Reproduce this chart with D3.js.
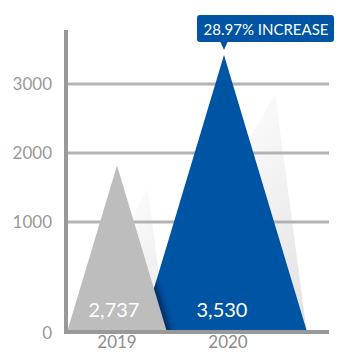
<!DOCTYPE html>
<html>
<head>
<meta charset="utf-8">
<title>Peak chart</title>
<style>
  body { margin: 0; background: #fff; }
  svg { display: block; font-family: "Lato", "Open Sans", sans-serif; }
  .tick-label { fill: #999; font-size: 17px; font-weight: 400; }
  .year-label { fill: #8c8c8c; font-size: 17px; font-weight: 400; }
  .value-label { fill: #fff; font-size: 20px; font-weight: 400; }
</style>
<script src="https://cdn.jsdelivr.net/npm/d3@7"></script>
</head>
<body>
<script>
// data
var years = ["2019", "2020"];
var values = [2737, 3530];          // printed labels
var peaks = [1820, 3420];           // drawn peak height on the axis
var yTicks = [0, 1000, 2000, 3000];
var callout = "28.97% INCREASE";

var width = 344, height = 352;
var baseY = 330;

var svg = d3.select("body").append("svg")
    .attr("width", width)
    .attr("height", height);

var defs = svg.append("defs");

// the axis is squeezed below 1000
var y = d3.scaleLinear()
    .domain([0, 1000, 3000])
    .range([332, 222, 84]);

var x = d3.scalePoint()
    .domain(years)
    .range([117, 224]);

var colors = ["#bdbdbd", "#0054a4"];

// shadow gradient
var sg = defs.append("linearGradient")
    .attr("id", "shade")
    .attr("x1", 0).attr("y1", 0).attr("x2", 1).attr("y2", 1);
sg.append("stop").attr("offset", "0%").attr("stop-color", "#ffffff").attr("stop-opacity", 0);
sg.append("stop").attr("offset", "60%").attr("stop-color", "#f1f1f1").attr("stop-opacity", 1);
sg.append("stop").attr("offset", "100%").attr("stop-color", "#e0e0e0").attr("stop-opacity", 1);

defs.append("filter").attr("id", "blur")
    .attr("x", "-50%").attr("y", "-50%").attr("width", "200%").attr("height", "200%")
    .append("feGaussianBlur").attr("stdDeviation", 3);

function tri(i) {
    var cx = x(years[i]), top = y(peaks[i]);
    var hw = 0.3 * (baseY - top);
    return { cx: cx, top: top, hw: hw, l: cx - hw, r: cx + hw };
}
var shapes = years.map(function(d, i) { return tri(i); });

// shadows
shapes.forEach(function(t, i) {
    var px = t.cx + 0.62 * t.hw;
    var py = baseY - 0.86 * (baseY - t.top);
    svg.append("path")
        .attr("d", "M" + t.l + "," + baseY + "L" + px + "," + py + "L" + t.r + "," + baseY + "Z")
        .attr("fill", "url(#shade)")
        .attr("opacity", i ? 0.95 : 0.75);
});

// gridlines
svg.selectAll(".grid")
    .data(yTicks.slice(1))
    .enter().append("line")
    .attr("x1", 68).attr("x2", 329)
    .attr("y1", function(d) { return y(d); })
    .attr("y2", function(d) { return y(d); })
    .attr("stroke", "#b3b3b3")
    .attr("stroke-width", 3);

// blue peak
var b = shapes[1], g = shapes[0];
defs.append("clipPath").attr("id", "blueClip")
    .append("path")
    .attr("d", "M" + b.l + "," + baseY + "L" + b.cx + "," + b.top + "L" + b.r + "," + baseY + "Z");

svg.append("path")
    .attr("d", "M" + b.l + "," + baseY + "L" + b.cx + "," + b.top + "L" + b.r + "," + baseY + "Z")
    .attr("fill", colors[1]);

// dark edge cast by the grey peak
svg.append("g").attr("clip-path", "url(#blueClip)")
    .append("line")
    .attr("x1", g.cx + 0.7 * g.hw).attr("y1", baseY - 0.3 * (baseY - g.top))
    .attr("x2", g.r + 1).attr("y2", baseY + 4)
    .attr("stroke", "#001f45")
    .attr("stroke-width", 6)
    .attr("filter", "url(#blur)");

// grey peak
svg.append("path")
    .attr("d", "M" + g.l + "," + baseY + "L" + g.cx + "," + g.top + "L" + g.r + "," + baseY + "Z")
    .attr("fill", colors[0]);

// axes
svg.append("line")
    .attr("x1", 66).attr("x2", 66).attr("y1", 30).attr("y2", 334)
    .attr("stroke", "#999").attr("stroke-width", 4);
svg.append("line")
    .attr("x1", 64).attr("x2", 329).attr("y1", 332).attr("y2", 332)
    .attr("stroke", "#999").attr("stroke-width", 4);

svg.selectAll(".tick-label")
    .data(yTicks)
    .enter().append("text")
    .attr("class", "tick-label")
    .attr("x", 52)
    .attr("y", function(d) { return d === 0 ? 333 : y(d); })
    .attr("dy", "0.35em")
    .attr("text-anchor", "end")
    .text(function(d) { return d; });

svg.selectAll(".year-label")
    .data(years)
    .enter().append("text")
    .attr("class", "year-label")
    .attr("x", function(d, i) { return x(d) + (i ? 4 : 0); })
    .attr("y", 348)
    .attr("text-anchor", "middle")
    .text(function(d) { return d; });

svg.selectAll(".value-label")
    .data(values)
    .enter().append("text")
    .attr("class", "value-label")
    .attr("x", function(d, i) { return shapes[i].cx - (i ? 2 : 3); })
    .attr("y", 317)
    .attr("text-anchor", "middle")
    .text(function(d) { return d3.format(",")(d); });

// callout
var cg = svg.append("g");
cg.append("rect")
    .attr("x", 197).attr("y", 15).attr("width", 137).attr("height", 27)
    .attr("rx", 3)
    .attr("fill", "#0054a4");
cg.append("path")
    .attr("d", "M" + (b.cx - 4) + ",41L" + (b.cx + 4) + ",41L" + b.cx + ",50Z")
    .attr("fill", "#0054a4");
cg.append("text")
    .attr("x", 266).attr("y", 34.5)
    .attr("text-anchor", "middle")
    .attr("fill", "#fff")
    .attr("font-size", 15)
    .attr("font-weight", 400)
    .text(callout);
</script>
</body>
</html>
